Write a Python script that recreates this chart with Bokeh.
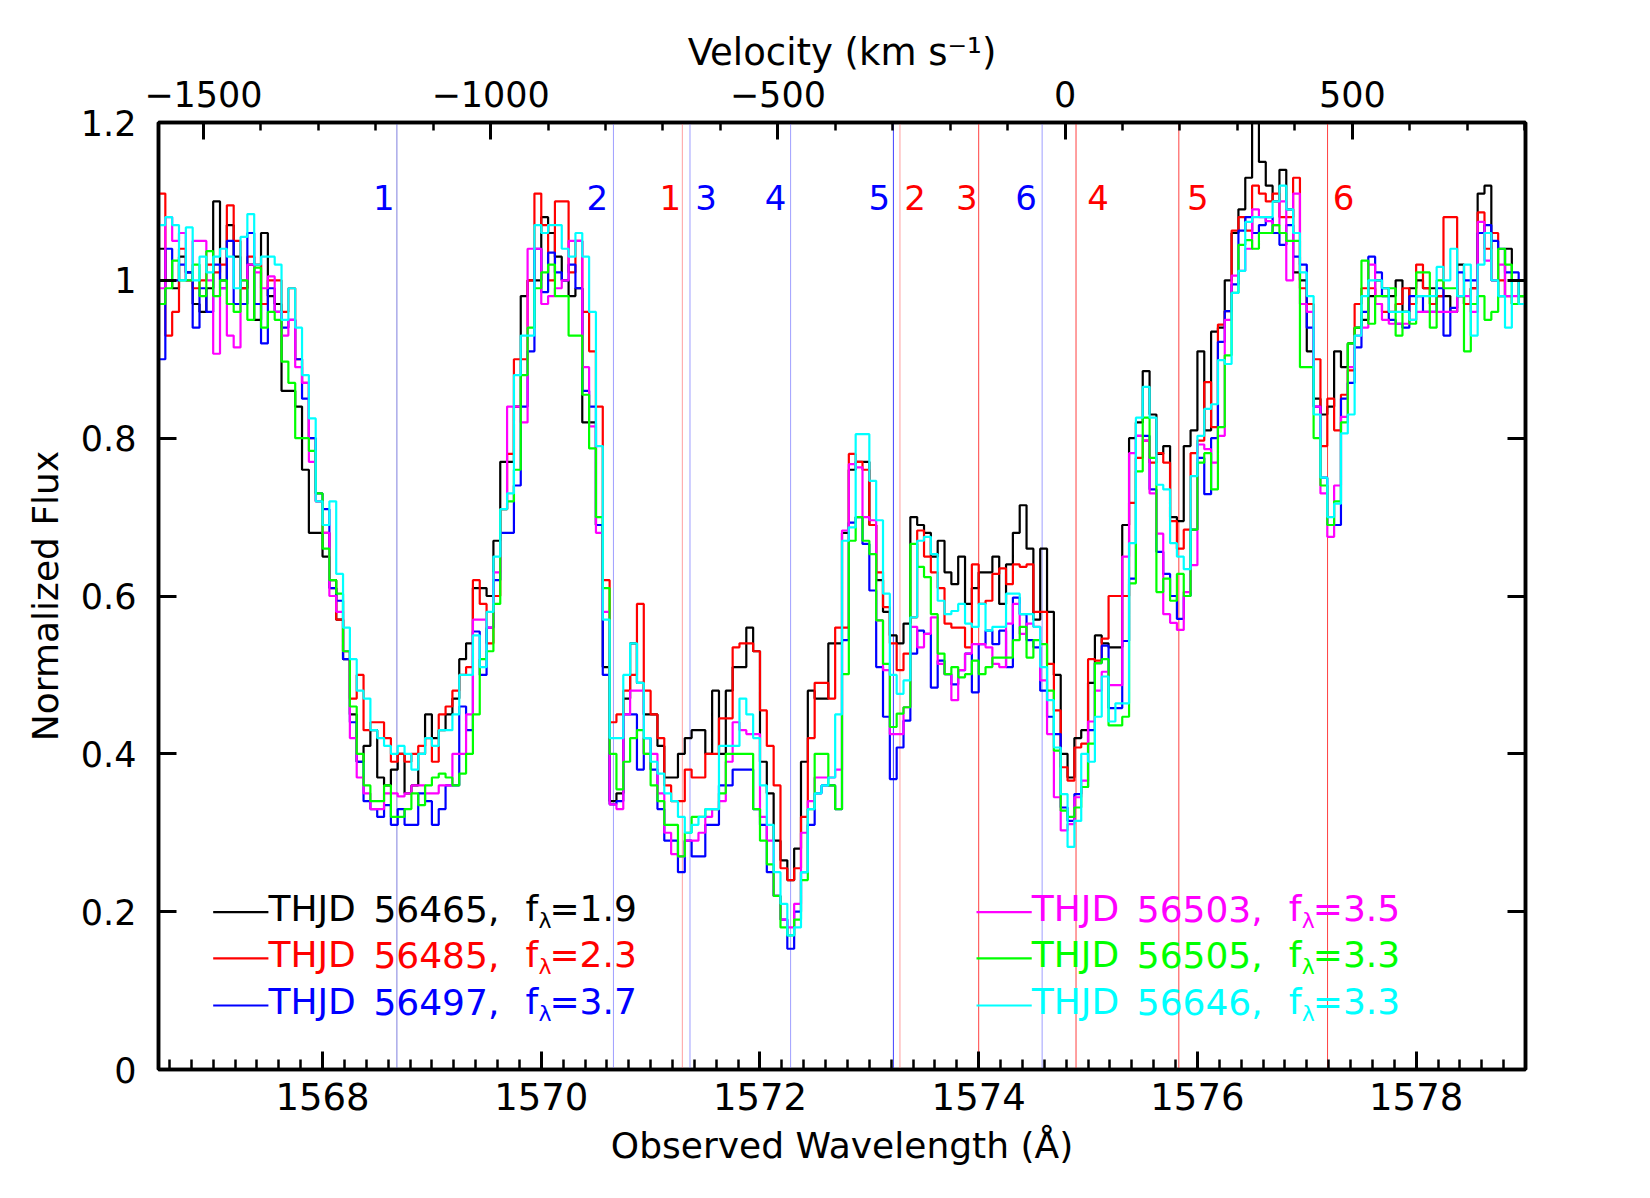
import numpy as np
from bokeh.plotting import figure
from bokeh.models import (LinearAxis, Range1d, SingleIntervalTicker, FixedTicker, Span,
                          CustomJSTickFormatter)
from bokeh.core.properties import value
from bokeh.embed import file_html
from bokeh.resources import INLINE

FONT = "DejaVu Sans"

# Spectral grid: uniform bins starting at 1566.5 A
wave_start = 1566.5
wave_step = 0.0625

# Normalized flux per bin, one list per epoch (rows of 20 bins = 1.25 A)
flux_56465 = [
    1.04, 1.00, 0.99, 1.03, 1.01, 0.97, 0.96, 0.99, 1.10, 1.00, 1.07, 1.03, 0.99, 1.02, 0.95, 1.06, 0.98, 0.97, 0.86, 0.86,
    0.84, 0.76, 0.68, 0.68, 0.65, 0.62, 0.57, 0.52, 0.45, 0.39, 0.41, 0.43, 0.37, 0.36, 0.38, 0.40, 0.35, 0.36, 0.40, 0.45,
    0.42, 0.43, 0.45, 0.47, 0.52, 0.54, 0.61, 0.61, 0.60, 0.67, 0.77, 0.77, 0.84, 0.98, 1.00, 1.00, 1.08, 1.06, 1.03, 1.00,
    0.98, 0.99, 0.82, 0.82, 0.69, 0.51, 0.34, 0.35, 0.47, 0.54, 0.49, 0.45, 0.45, 0.41, 0.37, 0.37, 0.40, 0.42, 0.43, 0.43,
    0.40, 0.48, 0.40, 0.48, 0.51, 0.51, 0.56, 0.53, 0.39, 0.35, 0.29, 0.265, 0.24, 0.28, 0.39, 0.48, 0.47, 0.47, 0.54, 0.54,
    0.68, 0.76, 0.77, 0.77, 0.69, 0.62, 0.58, 0.55, 0.54, 0.565, 0.70, 0.69, 0.68, 0.65, 0.67, 0.63, 0.615, 0.65, 0.59, 0.61,
    0.63, 0.63, 0.65, 0.59, 0.64, 0.68, 0.715, 0.66, 0.57, 0.66, 0.58, 0.50, 0.40, 0.37, 0.42, 0.43, 0.49, 0.55, 0.54, 0.535,
    0.535, 0.69, 0.80, 0.82, 0.885, 0.83, 0.78, 0.79, 0.70, 0.695, 0.79, 0.81, 0.91, 0.81, 0.935, 0.94, 1.00, 1.06, 1.09, 1.13,
    1.22, 1.15, 1.12, 1.10, 1.14, 1.09, 1.01, 1.00, 0.91, 0.85, 0.83, 0.84, 0.91, 0.89, 0.92, 0.94, 0.95, 0.98, 1.00, 0.99,
    0.98, 1.00, 0.96, 0.99, 1.00, 0.99, 0.99, 0.98, 0.98, 0.96, 1.02, 0.97, 0.99, 1.11, 1.12, 1.00, 0.98, 1.04, 1.00, 0.98,
]
flux_56485 = [
    1.11, 0.93, 0.96, 1.04, 1.00, 0.99, 1.00, 1.02, 1.01, 1.02, 1.095, 1.05, 0.99, 1.03, 1.02, 0.97, 1.00, 1.00, 0.96, 0.99,
    0.90, 0.87, 0.80, 0.72, 0.68, 0.61, 0.57, 0.53, 0.47, 0.50, 0.43, 0.44, 0.44, 0.42, 0.39, 0.40, 0.39, 0.40, 0.41, 0.42,
    0.39, 0.45, 0.46, 0.48, 0.50, 0.51, 0.62, 0.59, 0.54, 0.60, 0.71, 0.78, 0.90, 0.90, 1.00, 1.11, 1.07, 1.00, 1.10, 1.10,
    1.01, 1.05, 0.96, 0.91, 0.84, 0.62, 0.44, 0.45, 0.48, 0.50, 0.59, 0.48, 0.45, 0.42, 0.36, 0.34, 0.34, 0.38, 0.37, 0.37,
    0.40, 0.40, 0.445, 0.445, 0.535, 0.54, 0.54, 0.53, 0.455, 0.41, 0.36, 0.255, 0.24, 0.255, 0.32, 0.42, 0.49, 0.49, 0.47, 0.56,
    0.56, 0.78, 0.77, 0.76, 0.69, 0.63, 0.586, 0.54, 0.506, 0.527, 0.573, 0.683, 0.65, 0.63, 0.61, 0.565, 0.56, 0.56, 0.535, 0.64,
    0.59, 0.594, 0.628, 0.635, 0.615, 0.64, 0.637, 0.64, 0.58, 0.58, 0.514, 0.455, 0.383, 0.366, 0.408, 0.413, 0.52, 0.518, 0.546, 0.60,
    0.60, 0.60, 0.718, 0.775, 0.797, 0.769, 0.781, 0.769, 0.695, 0.66, 0.684, 0.781, 0.797, 0.871, 0.814, 0.944, 0.961, 1.063, 1.08, 1.063,
    1.12, 1.11, 1.10, 1.11, 1.08, 1.08, 1.13, 0.99, 0.97, 0.90, 0.79, 0.85, 0.81, 0.855, 0.886, 0.97, 0.99, 0.99, 0.97, 0.96,
    0.96, 0.97, 0.99, 0.97, 1.02, 0.99, 0.97, 0.98, 1.08, 1.08, 0.98, 0.97, 0.99, 1.086, 1.04, 1.06, 1.00, 0.98, 0.97, 0.97,
]
flux_56497 = [
    0.90, 1.04, 1.00, 1.02, 1.01, 0.94, 0.99, 0.96, 1.02, 0.99, 1.05, 0.97, 0.97, 1.06, 0.97, 0.92, 0.99, 0.96, 0.94, 0.95,
    0.90, 0.85, 0.80, 0.73, 0.71, 0.61, 0.594, 0.52, 0.44, 0.39, 0.34, 0.33, 0.32, 0.335, 0.31, 0.33, 0.31, 0.31, 0.35, 0.34,
    0.31, 0.33, 0.36, 0.36, 0.46, 0.43, 0.555, 0.50, 0.56, 0.62, 0.68, 0.68, 0.74, 0.84, 0.91, 1.04, 0.985, 1.035, 1.01, 1.00,
    1.02, 0.99, 0.86, 0.84, 0.69, 0.50, 0.336, 0.34, 0.45, 0.45, 0.38, 0.42, 0.38, 0.33, 0.29, 0.29, 0.25, 0.29, 0.27, 0.27,
    0.31, 0.31, 0.36, 0.36, 0.38, 0.38, 0.38, 0.33, 0.31, 0.25, 0.22, 0.19, 0.153, 0.20, 0.25, 0.31, 0.35, 0.36, 0.36, 0.33,
    0.544, 0.693, 0.70, 0.666, 0.607, 0.51, 0.447, 0.368, 0.408, 0.442, 0.527, 0.556, 0.552, 0.484, 0.518, 0.501, 0.488, 0.506, 0.527, 0.478,
    0.539, 0.556, 0.539, 0.556, 0.51, 0.598, 0.577, 0.544, 0.535, 0.48, 0.447, 0.425, 0.332, 0.315, 0.349, 0.358, 0.43, 0.515, 0.537, 0.458,
    0.458, 0.543, 0.622, 0.803, 0.803, 0.735, 0.656, 0.628, 0.60, 0.571, 0.60, 0.684, 0.775, 0.729, 0.80, 0.922, 0.961, 0.995, 1.063, 1.08,
    1.06, 1.07, 1.08, 1.06, 1.045, 1.07, 1.03, 1.02, 0.94, 0.84, 0.75, 0.69, 0.69, 0.85, 0.87, 0.915, 0.96, 1.03, 1.01, 0.98,
    0.95, 0.945, 0.94, 0.98, 0.98, 0.96, 0.96, 0.99, 0.93, 0.965, 1.01, 1.00, 1.00, 1.06, 1.07, 1.05, 1.04, 1.01, 1.01, 1.00,
]
flux_56503 = [
    0.99, 1.08, 1.05, 1.06, 1.00, 1.05, 1.05, 1.00, 0.907, 0.99, 0.93, 0.915, 1.00, 1.02, 1.01, 0.99, 1.005, 0.96, 0.93, 0.95,
    0.89, 0.87, 0.77, 0.72, 0.68, 0.60, 0.58, 0.53, 0.42, 0.37, 0.35, 0.33, 0.33, 0.35, 0.35, 0.346, 0.35, 0.36, 0.36, 0.35,
    0.35, 0.36, 0.36, 0.40, 0.40, 0.45, 0.57, 0.57, 0.56, 0.63, 0.71, 0.84, 0.84, 0.82, 1.04, 1.04, 0.97, 0.98, 0.99, 1.00,
    1.05, 1.05, 0.89, 0.815, 0.68, 0.58, 0.336, 0.33, 0.45, 0.48, 0.48, 0.40, 0.40, 0.35, 0.30, 0.273, 0.27, 0.29, 0.29, 0.30,
    0.32, 0.33, 0.34, 0.39, 0.44, 0.43, 0.425, 0.425, 0.32, 0.29, 0.22, 0.19, 0.18, 0.21, 0.30, 0.34, 0.37, 0.37, 0.37, 0.38,
    0.683, 0.767, 0.763, 0.70, 0.696, 0.569, 0.506, 0.425, 0.425, 0.459, 0.561, 0.535, 0.552, 0.573, 0.514, 0.501, 0.468, 0.506, 0.527, 0.539,
    0.539, 0.535, 0.514, 0.51, 0.565, 0.59, 0.552, 0.565, 0.561, 0.493, 0.425, 0.345, 0.303, 0.311, 0.345, 0.366, 0.441, 0.48, 0.504, 0.487,
    0.487, 0.65, 0.781, 0.803, 0.797, 0.73, 0.679, 0.577, 0.566, 0.557, 0.605, 0.639, 0.792, 0.786, 0.769, 0.803, 0.95, 1.006, 1.012, 1.04,
    1.09, 1.08, 1.075, 1.07, 1.10, 1.00, 1.11, 0.97, 0.96, 0.84, 0.73, 0.675, 0.74, 0.827, 0.89, 0.93, 0.94, 1.02, 0.97, 0.95,
    0.945, 0.945, 0.945, 0.95, 0.96, 0.96, 0.96, 0.96, 0.96, 0.96, 0.98, 0.98, 0.96, 1.074, 1.025, 1.00, 1.02, 0.98, 0.98, 0.97,
]
flux_56505 = [
    0.97, 0.99, 1.025, 1.00, 1.00, 1.02, 0.98, 1.037, 0.98, 1.00, 0.97, 0.96, 1.00, 0.95, 1.016, 0.94, 0.96, 0.95, 0.897, 0.87,
    0.80, 0.80, 0.784, 0.73, 0.66, 0.62, 0.603, 0.53, 0.46, 0.40, 0.36, 0.34, 0.34, 0.36, 0.32, 0.32, 0.33, 0.35, 0.335, 0.36,
    0.37, 0.375, 0.37, 0.36, 0.375, 0.40, 0.45, 0.52, 0.53, 0.59, 0.71, 0.72, 0.76, 0.88, 0.94, 0.99, 1.01, 1.02, 0.98, 0.98,
    0.93, 0.93, 0.855, 0.787, 0.70, 0.61, 0.40, 0.355, 0.39, 0.42, 0.43, 0.40, 0.36, 0.34, 0.31, 0.31, 0.27, 0.30, 0.32, 0.32,
    0.33, 0.33, 0.35, 0.40, 0.40, 0.40, 0.40, 0.33, 0.29, 0.26, 0.22, 0.18, 0.17, 0.19, 0.24, 0.33, 0.40, 0.40, 0.36, 0.33,
    0.501, 0.67, 0.70, 0.67, 0.653, 0.569, 0.514, 0.434, 0.451, 0.459, 0.666, 0.637, 0.624, 0.577, 0.527, 0.501, 0.51, 0.497, 0.501, 0.518,
    0.501, 0.51, 0.522, 0.522, 0.522, 0.544, 0.561, 0.522, 0.544, 0.539, 0.48, 0.404, 0.328, 0.32, 0.332, 0.358, 0.413, 0.515, 0.52, 0.436,
    0.436, 0.447, 0.616, 0.758, 0.826, 0.775, 0.605, 0.622, 0.594, 0.628, 0.60, 0.684, 0.769, 0.781, 0.735, 0.814, 0.905, 0.984, 1.045, 1.051,
    1.04, 1.06, 1.06, 1.07, 1.06, 1.05, 1.05, 0.89, 0.89, 0.80, 0.74, 0.69, 0.72, 0.82, 0.92, 0.94, 1.025, 0.945, 0.98, 0.98,
    0.99, 0.93, 0.96, 0.945, 1.01, 1.01, 0.94, 1.00, 0.99, 0.99, 0.98, 0.91, 0.97, 0.98, 0.95, 0.96, 1.04, 1.02, 0.97, 0.98,
]
flux_56646 = [
    1.07, 1.08, 1.07, 1.00, 1.067, 1.00, 1.03, 1.01, 1.03, 1.04, 1.03, 0.99, 1.055, 1.084, 1.02, 1.03, 1.03, 1.02, 0.95, 0.99,
    0.94, 0.88, 0.825, 0.72, 0.69, 0.72, 0.628, 0.56, 0.52, 0.48, 0.47, 0.43, 0.42, 0.41, 0.40, 0.41, 0.40, 0.38, 0.40, 0.42,
    0.41, 0.43, 0.43, 0.45, 0.50, 0.50, 0.55, 0.51, 0.58, 0.65, 0.71, 0.73, 0.88, 0.93, 0.93, 1.07, 1.06, 1.07, 1.07, 1.04,
    1.03, 1.06, 1.03, 0.96, 0.79, 0.57, 0.42, 0.42, 0.50, 0.54, 0.49, 0.42, 0.39, 0.375, 0.35, 0.34, 0.32, 0.30, 0.31, 0.32,
    0.33, 0.33, 0.41, 0.41, 0.41, 0.47, 0.45, 0.42, 0.36, 0.31, 0.25, 0.21, 0.17, 0.18, 0.25, 0.33, 0.35, 0.36, 0.37, 0.45,
    0.67, 0.687, 0.805, 0.805, 0.746, 0.696, 0.603, 0.50, 0.476, 0.493, 0.573, 0.67, 0.675, 0.653, 0.594, 0.577, 0.581, 0.59, 0.565, 0.561,
    0.59, 0.556, 0.561, 0.561, 0.603, 0.603, 0.577, 0.577, 0.561, 0.51, 0.468, 0.408, 0.349, 0.282, 0.315, 0.40, 0.39, 0.447, 0.498, 0.441,
    0.464, 0.464, 0.667, 0.826, 0.865, 0.826, 0.741, 0.735, 0.667, 0.65, 0.634, 0.752, 0.803, 0.837, 0.843, 0.899, 0.894, 0.984, 1.012, 1.074,
    1.08, 1.08, 1.08, 1.10, 1.12, 1.09, 1.06, 1.01, 0.98, 0.83, 0.75, 0.70, 0.717, 0.806, 0.83, 0.93, 0.98, 1.00, 1.00, 0.99,
    0.96, 0.96, 0.96, 0.95, 0.98, 0.98, 0.98, 1.017, 1.00, 1.04, 0.98, 1.02, 0.93, 1.02, 1.06, 1.00, 0.98, 0.94, 1.00, 0.97,
]

epochs = ["56465", "56485", "56497", "56503", "56505", "56646"]
f_lambda = ["1.9", "2.3", "3.7", "3.5", "3.3", "3.3"]
fluxes = [flux_56465, flux_56485, flux_56497, flux_56503, flux_56505, flux_56646]
colors = ["#000000", "#ff0000", "#0000ff", "#ff00ff", "#00ff00", "#00ffff"]

# Absorption component wavelengths for the blue and red members of the doublet
blue_components = [1568.68, 1570.66, 1571.36, 1572.28, 1573.22, 1574.58]
red_components = [1571.29, 1573.28, 1574.00, 1574.89, 1575.83, 1577.19]
component_ids = ["1", "2", "3", "4", "5", "6"]

# Velocity scale for the top axis
zero_velocity_wavelength = 1574.79
c_kms = 299792.458

flux_ticks = [0.0, 0.2, 0.4, 0.6, 0.8, 1.0, 1.2]

x_lo, x_hi = 1566.5, 1579.0
y_lo, y_hi = 0.0, 1.2

p = figure(width=1650, height=1198,
           x_range=Range1d(x_lo, x_hi), y_range=Range1d(y_lo, y_hi),
           output_backend="svg", toolbar_location=None,
           x_axis_location=None, y_axis_location=None,
           min_border_left=158, min_border_right=125,
           min_border_top=122, min_border_bottom=129)
p.grid.visible = False
p.background_fill_color = "white"
p.border_fill_color = "white"
p.outline_line_color = "black"
p.outline_line_width = 3.5

vel_lo = (x_lo / zero_velocity_wavelength - 1.0) * c_kms
vel_hi = (x_hi / zero_velocity_wavelength - 1.0) * c_kms
p.extra_x_ranges = {"velocity": Range1d(vel_lo, vel_hi)}


def style_axis(ax, major_in=18, minor_in=9, label_size="35px", title_size="34px"):
    ax.axis_line_width = 3.5
    ax.axis_line_color = "black"
    ax.major_tick_in = major_in
    ax.major_tick_out = 0
    ax.minor_tick_in = minor_in
    ax.minor_tick_out = 0
    ax.major_tick_line_width = 3
    ax.minor_tick_line_width = 2.5
    ax.major_label_text_font = FONT
    ax.major_label_text_font_size = label_size
    ax.major_label_text_color = "black"
    ax.axis_label_text_font = FONT
    ax.axis_label_text_font_size = title_size
    ax.axis_label_text_font_style = "normal"
    ax.axis_label_text_color = "black"


bottom = LinearAxis(ticker=SingleIntervalTicker(interval=2, num_minor_ticks=10),
                    formatter=CustomJSTickFormatter(code="return tick.toFixed(0);"),
                    axis_label="Observed Wavelength (Å)")
style_axis(bottom, 18, 10, "37px", "36px")
bottom.major_label_standoff = 13
bottom.axis_label_standoff = 12
p.add_layout(bottom, "below")

top = LinearAxis(x_range_name="velocity",
                 ticker=SingleIntervalTicker(interval=500, num_minor_ticks=5),
                 formatter=CustomJSTickFormatter(
                     code="return tick < 0 ? '\u2212' + Math.abs(tick).toFixed(0) : tick.toFixed(0);"),
                 axis_label="Velocity (km s⁻¹)")
style_axis(top, 17, 8, "35px", "37px")
top.major_label_standoff = 16
top.axis_label_standoff = 4
p.add_layout(top, "above")

left = LinearAxis(ticker=FixedTicker(ticks=flux_ticks),
                  formatter=CustomJSTickFormatter(code="return String(Math.round(tick * 10) / 10);"),
                  axis_label="Normalized Flux")
style_axis(left, 18, 0, "35px", "36px")
left.major_label_standoff = 22
left.axis_label_standoff = 12
p.add_layout(left, "left")

right = LinearAxis(ticker=FixedTicker(ticks=flux_ticks),
                   formatter=CustomJSTickFormatter(code="return '';"))
style_axis(right, 18, 0)
p.add_layout(right, "right")

# Component markers
blue_line_colors = ["#7f7fdf", "#9f9fff", "#9f9fff", "#9f9fff", "#4040ff", "#9f9fff"]
red_line_colors = ["#ff9f9f", "#ff9f9f", "#ff4040", "#ff4040", "#ff4040", "#ff4040"]
for wl, col in zip(blue_components, blue_line_colors):
    p.add_layout(Span(location=wl, dimension="height", line_color=col,
                      line_width=1, level="underlay"))
for wl, col in zip(red_components, red_line_colors):
    p.add_layout(Span(location=wl, dimension="height", line_color=col,
                      line_width=1, level="underlay"))

label_y = 1.105
blue_dx = [-13, -16, 16, -15, -14, -16]
red_dx = [-12, 15, -12, 22, 19, 16]
p.text(x=blue_components, y=[label_y] * 6, text=component_ids, x_offset=blue_dx,
       text_color="#0000ff", text_font=value(FONT), text_font_size="34px",
       text_align="center", text_baseline="alphabetic")
p.text(x=red_components, y=[label_y] * 6, text=component_ids, x_offset=red_dx,
       text_color="#ff0000", text_font=value(FONT), text_font_size="34px",
       text_align="center", text_baseline="alphabetic")

# Spectra as histogram-style steps
n_bins = len(flux_56465)
edges = wave_start + wave_step * np.arange(n_bins + 1)
for flux, col in zip(fluxes, colors):
    yv = np.append(np.asarray(flux, dtype=float), flux[-1])
    p.step(x=edges, y=yv, mode="after", line_color=col, line_width=2.2)

# Legend: two columns of three entries
legend_x = [1567.0, 1567.0, 1567.0, 1573.98, 1573.98, 1573.98]
legend_y = [0.1993, 0.1407, 0.0811, 0.1993, 0.1407, 0.0811]
legend_len = 0.505
piece_dx = [0, 105, 257, 281]
for i in range(6):
    x0 = legend_x[i]
    x1 = x0 + legend_len
    yy = legend_y[i]
    col = colors[i]
    p.segment(x0=[x0], y0=[yy], x1=[x1], y1=[yy], line_color=col, line_width=2.2)
    pieces = ["THJD", epochs[i] + ",", "f", "=" + f_lambda[i]]
    p.text(x=[x1] * 4, y=[yy] * 4, text=pieces, x_offset=piece_dx, y_offset=[-3.5] * 4,
           text_color=col, text_font=value(FONT), text_font_size="36px",
           text_align="left", text_baseline="alphabetic")
    p.text(x=[x1], y=[yy], text=["λ"], x_offset=[270], y_offset=[8],
           text_color=col, text_font=value(FONT), text_font_size="22px",
           text_align="left", text_baseline="alphabetic")

open("out.html", "w").write(file_html(p, INLINE))
